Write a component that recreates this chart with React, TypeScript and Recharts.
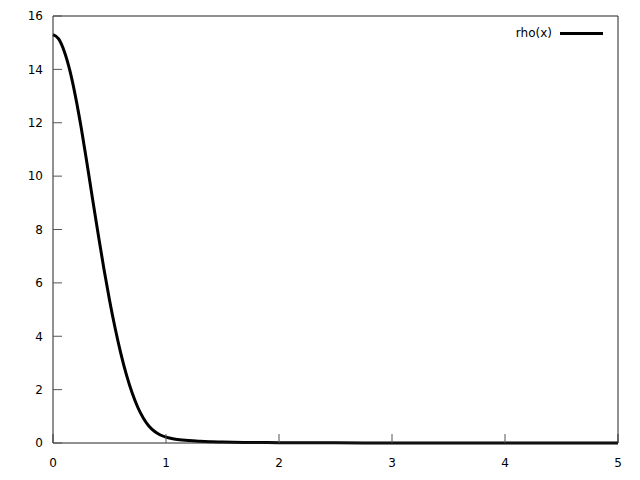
import { LineChart, Line, XAxis, YAxis, Legend } from 'recharts';

const xValues = [
  0, 0.05, 0.1, 0.15, 0.2, 0.25, 0.3, 0.35, 0.4, 0.45, 0.5, 0.55, 0.6, 0.65, 0.7,
  0.75, 0.8, 0.85, 0.9, 0.95, 1.0, 1.05, 1.1, 1.2, 1.3, 1.4, 1.5, 1.75, 2, 2.5, 3, 3.5, 4, 4.5, 5,
];
const rhoValues = [
  15.3, 15.14, 14.67, 13.94, 12.96, 11.8, 10.5, 9.14, 7.82, 6.54, 5.36, 4.3, 3.36, 2.55, 1.88,
  1.34, 0.93, 0.63, 0.43, 0.3, 0.22, 0.17, 0.135, 0.09, 0.065, 0.048, 0.037, 0.02, 0.013, 0.006,
  0.003, 0.002, 0.0012, 0.0008, 0.0005,
];
const xTicks = [0, 1, 2, 3, 4, 5];
const yTicks = [0, 2, 4, 6, 8, 10, 12, 14, 16];
const seriesName = 'rho(x)';

const FONT = '"DejaVu Sans", sans-serif';

/**
 * Legend in the top right corner: label then a line sample
 */
function RhoLegend() {
  return (
    <div style={{ display: 'flex', alignItems: 'center', justifyContent: 'flex-end', fontFamily: FONT, fontSize: 12, color: '#000' }}>
      <span>{seriesName}</span>
      <span style={{ display: 'inline-block', width: 43, height: 3, background: '#000', marginLeft: 8 }} />
    </div>
  );
}

export default function App() {
  const data = xValues.map((x, i) => ({ x, rho: rhoValues[i] }));

  return (
    <div style={{ position: 'absolute', left: 0, top: 0, width: 640, height: 480, background: '#fff' }}>
      <LineChart width={640} height={480} data={data} margin={{ top: 0, right: 0, bottom: 0, left: 0 }}>
        <XAxis
          dataKey="x"
          type="number"
          domain={[0, 5]}
          ticks={xTicks}
          height={37}
          tickSize={-9}
          tickMargin={24}
          axisLine={{ stroke: '#222' }}
          tickLine={{ stroke: '#555' }}
          tick={{ fill: '#000', fontSize: 12, fontFamily: FONT }}
        />
        <XAxis
          xAxisId="top"
          orientation="top"
          type="number"
          domain={[0, 5]}
          ticks={xTicks}
          height={16}
          tickSize={-9}
          axisLine={{ stroke: '#222' }}
          tickLine={{ stroke: '#555' }}
          tick={false}
        />
        <YAxis
          type="number"
          domain={[0, 16]}
          ticks={yTicks}
          width={53}
          tickSize={-9}
          tickMargin={19}
          axisLine={{ stroke: '#222' }}
          tickLine={{ stroke: '#555' }}
          tick={{ fill: '#000', fontSize: 12, fontFamily: FONT }}
        />
        <YAxis
          yAxisId="right"
          orientation="right"
          type="number"
          domain={[0, 16]}
          ticks={yTicks}
          width={22}
          tickSize={-9}
          axisLine={{ stroke: '#222' }}
          tickLine={{ stroke: '#555' }}
          tick={false}
        />
        <Legend
          layout="horizontal"
          verticalAlign="middle"
          align="center"
          content={<RhoLegend />}
          wrapperStyle={{ position: 'absolute', top: 26, left: 480, width: 123, height: 16 }}
        />
        <Line
          type="monotone"
          dataKey="rho"
          name={seriesName}
          stroke="#000"
          strokeWidth={3}
          dot={false}
          isAnimationActive={false}
        />
      </LineChart>
    </div>
  );
}
